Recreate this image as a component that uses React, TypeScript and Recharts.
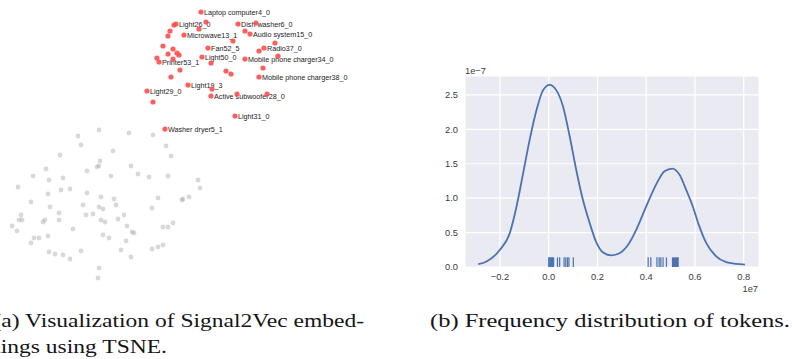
import React from 'react';
import {
  ScatterChart,
  Scatter,
  XAxis,
  YAxis,
  ComposedChart,
  Line,
  CartesianGrid,
  ReferenceLine,
} from 'recharts';

// ---- (a) TSNE embedding (2-D embedding coordinates, y grows downward) ----
const labeledTokens = [
  { name: 'Laptop computer4_0', x: 201, y: 12 },
  { name: 'Light26_0', x: 176, y: 24 },
  { name: 'Dish washer6_0', x: 238, y: 24 },
  { name: 'Microwave13_1', x: 184, y: 35 },
  { name: 'Audio system15_0', x: 250, y: 34 },
  { name: 'Fan52_5', x: 208, y: 48 },
  { name: 'Radio37_0', x: 264, y: 48 },
  { name: 'Light50_0', x: 202, y: 57 },
  { name: 'Printer53_1', x: 159, y: 62 },
  { name: 'Mobile phone charger34_0', x: 245, y: 59 },
  { name: 'Mobile phone charger38_0', x: 259, y: 77 },
  { name: 'Light19_3', x: 188, y: 85 },
  { name: 'Light29_0', x: 147, y: 91 },
  { name: 'Active subwoofer28_0', x: 211, y: 96 },
  { name: 'Light31_0', x: 235, y: 116 },
  { name: 'Washer dryer5_1', x: 165, y: 129 },
];

const otherRedTokens = [
  { x: 174, y: 25 }, { x: 206, y: 22 }, { x: 199, y: 29 }, { x: 256, y: 23 },
  { x: 245, y: 31 }, { x: 170, y: 31 }, { x: 168, y: 36 }, { x: 163, y: 46 },
  { x: 173, y: 49 }, { x: 168, y: 54 }, { x: 179, y: 55 }, { x: 177, y: 53 },
  { x: 157, y: 58 }, { x: 173, y: 59 }, { x: 180, y: 70 }, { x: 171, y: 77 },
  { x: 211, y: 63 }, { x: 226, y: 71 }, { x: 231, y: 74 }, { x: 233, y: 41 },
  { x: 275, y: 43 }, { x: 259, y: 51 }, { x: 263, y: 68 }, { x: 278, y: 56 },
  { x: 212, y: 89 }, { x: 237, y: 94 }, { x: 267, y: 94 }, { x: 153, y: 102 },
];

const grayTokens = [
  { x: 99, y: 130 }, { x: 78, y: 136 }, { x: 129, y: 133 }, { x: 153, y: 135 },
  { x: 81, y: 145 }, { x: 166, y: 146 }, { x: 60, y: 155 }, { x: 113, y: 151 },
  { x: 171, y: 156 }, { x: 100, y: 161 }, { x: 97, y: 167 }, { x: 99, y: 166 },
  { x: 87, y: 171 }, { x: 131, y: 166 }, { x: 46, y: 169 }, { x: 33, y: 176 },
  { x: 111, y: 176 }, { x: 138, y: 174 }, { x: 149, y: 177 }, { x: 168, y: 176 },
  { x: 49, y: 180 }, { x: 63, y: 178 }, { x: 198, y: 180 }, { x: 200, y: 188 },
  { x: 18, y: 187 }, { x: 61, y: 190 }, { x: 70, y: 189 }, { x: 48, y: 194 },
  { x: 87, y: 193 }, { x: 101, y: 197 }, { x: 31, y: 202 }, { x: 114, y: 199 },
  { x: 158, y: 198 }, { x: 183, y: 199 }, { x: 182, y: 200 }, { x: 189, y: 197 },
  { x: 83, y: 205 }, { x: 116, y: 205 }, { x: 50, y: 207 }, { x: 99, y: 207 },
  { x: 103, y: 209 }, { x: 152, y: 208 }, { x: 59, y: 213 }, { x: 86, y: 215 },
  { x: 93, y: 214 }, { x: 124, y: 215 }, { x: 118, y: 219 }, { x: 21, y: 215 },
  { x: 19, y: 220 }, { x: 22, y: 220 }, { x: 43, y: 222 }, { x: 45, y: 220 },
  { x: 59, y: 220 }, { x: 101, y: 220 }, { x: 105, y: 222 }, { x: 12, y: 226 },
  { x: 17, y: 231 }, { x: 73, y: 229 }, { x: 127, y: 226 }, { x: 163, y: 227 },
  { x: 168, y: 227 }, { x: 173, y: 223 }, { x: 132, y: 232 }, { x: 134, y: 233 },
  { x: 48, y: 236 }, { x: 34, y: 238 }, { x: 39, y: 238 }, { x: 103, y: 235 },
  { x: 109, y: 238 }, { x: 126, y: 241 }, { x: 31, y: 243 }, { x: 163, y: 245 },
  { x: 158, y: 247 }, { x: 152, y: 249 }, { x: 121, y: 250 }, { x: 81, y: 251 },
  { x: 49, y: 252 }, { x: 55, y: 254 }, { x: 63, y: 255 }, { x: 70, y: 259 },
  { x: 131, y: 257 }, { x: 99, y: 268 }, { x: 98, y: 278 },
];

// ---- (b) KDE of token frequencies (x in 1e7, density in 1e-7) ----
const kdeX = [
  -0.289, -0.255, -0.2, -0.16, -0.132, -0.105, -0.078, -0.05, -0.023, 0.004,
  0.031, 0.059, 0.086, 0.113, 0.14, 0.168, 0.195, 0.223, 0.257, 0.29, 0.325,
  0.359, 0.4, 0.441, 0.475, 0.507, 0.537, 0.564, 0.591, 0.618, 0.646, 0.687,
  0.728, 0.769, 0.805,
];
const kdeY = [
  0.04, 0.08, 0.25, 0.49, 0.88, 1.36, 1.85, 2.28, 2.57, 2.645, 2.57, 2.33, 1.9,
  1.41, 0.98, 0.64, 0.36, 0.21, 0.17, 0.2, 0.32, 0.54, 0.88, 1.2, 1.39, 1.43,
  1.34, 1.12, 0.88, 0.59, 0.35, 0.155, 0.07, 0.045, 0.035,
];
const rugValues = [
  0.0, 0.004, 0.008, 0.012, 0.016, 0.02, 0.036, 0.045, 0.063, 0.07, 0.077,
  0.083, 0.101, 0.408, 0.419, 0.444, 0.453, 0.46, 0.469, 0.483, 0.508, 0.512,
  0.516, 0.52, 0.524, 0.528, 0.531,
];
const xTicks = [-0.2, 0.0, 0.2, 0.4, 0.6, 0.8];
const yTicks = [0.0, 0.5, 1.0, 1.5, 2.0, 2.5];
const rugHeight = 0.14;

const kdeData = kdeX.map((x, i) => ({ x, y: kdeY[i] }));

const RED = '#ff4d4d';
const BLUE = '#4c72b0';

const LabeledDot = (props: any) => {
  const { cx, cy, payload } = props;
  return (
    <g>
      <circle cx={cx} cy={cy} r={2.6} fill={RED} fillOpacity={0.9} />
      <text
        x={cx + 3}
        y={cy + 2.6}
        fontSize={7.2}
        fontFamily="'Liberation Sans', Arial, sans-serif"
        fill="#222"
      >
        {payload.name}
      </text>
    </g>
  );
};
const RedDot = (props: any) => (
  <circle cx={props.cx} cy={props.cy} r={2.6} fill={RED} fillOpacity={0.9} />
);
const GrayDot = (props: any) => (
  <circle cx={props.cx} cy={props.cy} r={2.4} fill="#a8a8a8" fillOpacity={0.45} />
);

const fmt = (v: number) => (v < 0 ? '\u2212' + Math.abs(v).toFixed(1) : v.toFixed(1));

const tickStyle = {
  fontSize: 9.3,
  fontFamily: "'Liberation Sans', Arial, sans-serif",
  fill: '#3a3a3a',
};

export default function App() {
  return (
    <div
      style={{
        position: 'absolute',
        left: 0,
        top: 0,
        width: 792,
        height: 359,
        overflow: 'hidden',
        background: '#fff',
      }}
    >
      <div style={{ position: 'absolute', left: 0, top: 0 }}>
        <ScatterChart width={400} height={300} margin={{ top: 0, right: 0, bottom: 0, left: 0 }}>
          <XAxis type="number" dataKey="x" domain={[0, 400]} hide />
          <YAxis type="number" dataKey="y" domain={[0, 300]} reversed hide />
          <Scatter data={grayTokens} shape={GrayDot} isAnimationActive={false} />
          <Scatter data={labeledTokens} shape={LabeledDot} isAnimationActive={false} />
          <Scatter data={otherRedTokens} shape={RedDot} isAnimationActive={false} />
        </ScatterChart>
      </div>

      <div style={{ position: 'absolute', left: 420, top: 50 }}>
        <ComposedChart
          width={360}
          height={260}
          data={kdeData}
          margin={{ top: 26, right: 21, bottom: 13, left: 5 }}
        >
          <CartesianGrid fill="#eaeaf2" stroke="#ffffff" strokeWidth={1.2} />
          <XAxis
            type="number"
            dataKey="x"
            domain={[-0.3434, 0.8627]}
            ticks={xTicks}
            tickFormatter={fmt}
            axisLine={false}
            tickLine={false}
            tickSize={4}
            tickMargin={2}
            height={30}
            tick={tickStyle}
            allowDataOverflow
          />
          <YAxis
            type="number"
            domain={[0, 2.775]}
            ticks={yTicks}
            tickFormatter={fmt}
            axisLine={false}
            tickLine={false}
            tickSize={5}
            tickMargin={2}
            width={40}
            tick={tickStyle}
            allowDataOverflow
          />
          {rugValues.map((v, i) => (
            <ReferenceLine
              key={i}
              segment={[
                { x: v, y: 0 },
                { x: v, y: rugHeight },
              ]}
              stroke={BLUE}
              strokeWidth={1.2}
            />
          ))}
          <Line
            type="monotone"
            dataKey="y"
            stroke={BLUE}
            strokeWidth={1.8}
            dot={false}
            activeDot={false}
            isAnimationActive={false}
          />
        </ComposedChart>
      </div>

      <svg
        width={792}
        height={359}
        style={{ position: 'absolute', left: 0, top: 0, pointerEvents: 'none', overflow: 'visible' }}
      >
        <text x={465} y={74} {...tickStyle} fontSize={9.3}>
          1e{'\u2212'}7
        </text>
        <text x={758} y={292} textAnchor="end" {...tickStyle} fontSize={9.3}>
          1e7
        </text>
        <g fontFamily="'Liberation Serif', 'Times New Roman', serif" fontSize={19.5} fill="#151515">
          <text x={-6.5} y={327.3} textLength={370.5} lengthAdjust="spacingAndGlyphs">
            (a) Visualization of Signal2Vec embed-
          </text>
          <text x={-11} y={353.3} textLength={178} lengthAdjust="spacingAndGlyphs">
            dings using TSNE.
          </text>
          <text x={430} y={327.3} textLength={360} lengthAdjust="spacingAndGlyphs">
            (b) Frequency distribution of tokens.
          </text>
        </g>
      </svg>
    </div>
  );
}
